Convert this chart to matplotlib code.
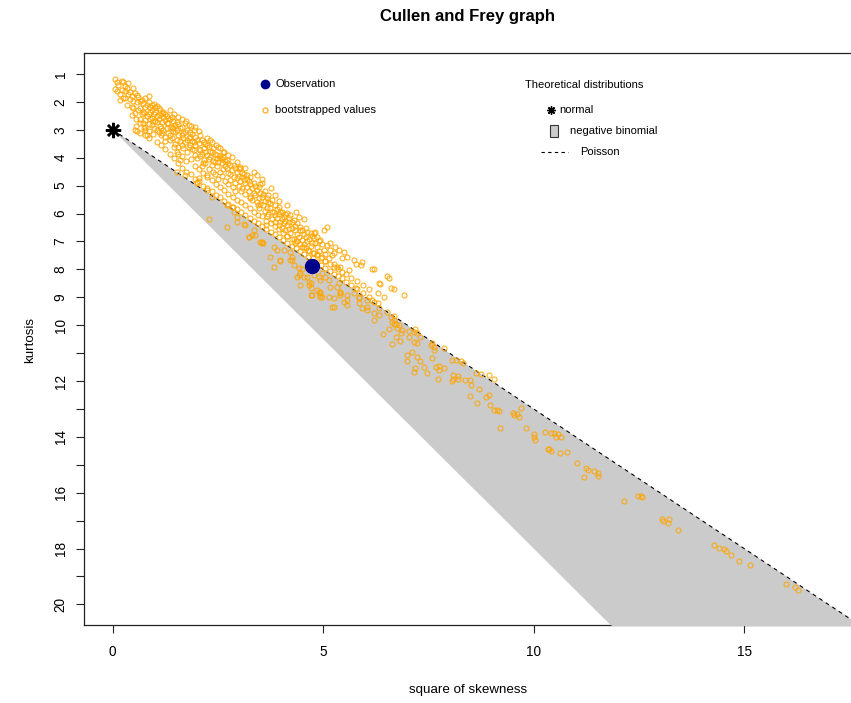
import numpy as np
import matplotlib
matplotlib.use("Agg")
import matplotlib.pyplot as plt
from matplotlib.patches import Rectangle

plt.rcParams['font.family'] = ['Liberation Sans', 'DejaVu Sans']

# ---------------- data ----------------
obs_skew2 = 4.74
obs_kurt = 7.88
normal_skew2 = 0.0
normal_kurt = 3.0

# dense bootstrap cloud, upper part: x columns and the kurtosis values seen in each column
cloud_x = [0.05, 0.10, 0.13, 0.17, 0.21, 0.24, 0.29, 0.33, 0.37, 0.41, 0.45, 0.49, 0.53, 0.57, 0.61, 0.65,
           0.69, 0.73, 0.77, 0.81, 0.85, 0.89, 0.93, 0.97, 1.01, 1.05, 1.09, 1.13, 1.17, 1.20, 1.24, 1.29,
           1.32, 1.36, 1.40, 1.44, 1.48, 1.52, 1.56, 1.60, 1.64, 1.68, 1.72, 1.76, 1.80, 1.84, 1.88, 1.92,
           1.96, 2.00, 2.04, 2.08, 2.12, 2.16, 2.20, 2.24, 2.28, 2.32, 2.36, 2.39, 2.43, 2.47, 2.51, 2.55,
           2.59, 2.63, 2.67, 2.71, 2.75, 2.79, 2.83, 2.87, 2.91, 2.95, 2.99, 3.03, 3.07, 3.11, 3.15, 3.19,
           3.23, 3.27, 3.31, 3.35, 3.39, 3.43, 3.47, 3.51, 3.55, 3.58, 3.62, 3.66, 3.70, 3.74, 3.78, 3.82,
           3.86, 3.90, 3.94, 3.98, 4.02, 4.06, 4.10, 4.14, 4.18, 4.22, 4.26, 4.30, 4.34, 4.38, 4.42, 4.46,
           4.50, 4.54, 4.58, 4.62, 4.66, 4.70, 4.74, 4.77, 4.81, 4.85, 4.89, 4.93, 4.97, 5.01, 5.05, 5.09,
           5.13, 5.17, 5.21, 5.25, 5.29, 5.33, 5.37, 5.41, 5.45, 5.49, 5.57, 5.61, 5.73, 5.77, 5.84, 5.89,
           5.93, 6.04, 6.16, 6.20, 6.32, 6.36, 6.52, 6.56, 6.60, 6.68, 6.92]
cloud_k = [[1.18, 1.55], [1.6, 1.3], [1.4], [1.93, 1.7], [1.57, 1.25], [1.28, 1.85], [1.42, 1.87, 1.6],
           [1.5, 2.1], [1.33, 1.7], [1.63, 1.9], [1.78, 2.47, 2.2], [1.49, 2.21, 1.95], [1.69, 3.0, 2.4],
           [1.99, 3.04, 1.75], [1.81, 2.3], [2.23, 1.95, 2.6], [1.93, 2.45], [2.35, 2.05, 2.75],
           [1.87, 2.65, 2.89, 3.0, 3.19, 2.2], [2.11, 3.19, 2.5], [1.78, 2.44, 2.0, 2.8], [2.17, 2.35, 2.6],
           [2.29, 2.59, 2.83, 2.1], [2.09, 2.95, 2.45], [2.35, 2.2, 2.7], [2.71, 2.5, 2.15], [2.23, 3.07, 2.6],
           [2.47, 2.3, 2.85], [2.71, 2.4, 3.1], [2.35, 3.0, 2.55], [3.25, 2.65, 2.45], [2.77, 2.95, 2.5],
           [2.59, 3.1, 2.75], [3.19, 2.62, 2.9], [2.53, 2.89, 3.3], [2.7, 3.05, 2.95], [2.83, 3.07, 3.5],
           [2.71, 3.37, 3.78, 4.52, 3.0], [2.8, 3.2, 3.6], [2.95, 4.08, 3.4], [3.19, 2.9, 3.55], [3.66, 3.1, 3.3],
           [2.77, 3.07, 4.62, 3.45], [3.0, 3.35, 3.8], [2.83, 3.3, 3.6], [3.07, 3.54, 3.25], [3.15, 3.7, 3.4],
           [3.0, 3.72, 3.45], [3.25, 3.55, 3.9], [4.02, 4.86, 3.37, 4.92], [3.48, 4.74, 3.7], [3.19, 3.72, 3.95],
           [3.35, 3.85, 4.3], [3.43, 4.08, 3.65], [3.78, 3.5, 4.2], [3.54, 4.62, 5.16, 3.9], [3.6, 6.2, 4.05, 4.4],
           [3.37, 3.96, 3.75], [5.4, 3.8, 4.25], [3.66, 4.5, 4.1], [4.14, 3.85, 4.6], [3.9, 4.3, 4.0],
           [3.6, 4.15, 4.75], [4.02, 4.5, 3.95], [4.2, 4.05, 4.65], [3.78, 3.96, 4.4], [4.1, 4.85, 4.3],
           [4.08, 4.38, 5.7, 6.49], [4.2, 4.55, 4.95], [4.8, 4.25, 4.6], [3.96, 5.76, 4.45], [4.26, 5.94, 4.7],
           [4.35, 4.9, 5.2], [4.74, 6.29, 4.5, 6.11], [4.4, 5.0, 4.65], [4.38, 4.32, 4.85], [4.55, 5.1, 4.7],
           [4.8, 6.38, 4.6], [6.41, 4.9, 5.3], [4.62, 5.05, 4.75], [6.85, 4.85, 5.2, 6.83], [4.95, 5.4, 4.7],
           [6.77, 5.1, 5.5], [6.59, 4.9, 5.25], [5.0, 5.35, 6.77], [4.62, 5.15, 5.6], [5.45, 5.05, 5.8],
           [5.25, 5.65, 4.95, 7.01], [4.92, 7.05, 5.4, 7.01], [5.7, 7.07, 5.3], [5.55, 5.9, 5.2], [5.81, 5.45, 6.1],
           [5.6, 5.35, 6.0], [5.63, 7.55, 5.8], [5.95, 6.2, 5.5], [5.94, 7.19, 7.91], [5.7, 6.05, 6.3],
           [7.31, 5.85, 6.15], [6.0, 6.4, 5.75], [5.94, 6.29, 7.7, 7.67], [5.94, 6.5, 6.2], [6.11, 7.31, 6.35],
           [6.0, 6.6, 6.25], [5.99, 6.41, 6.8], [6.3, 6.15, 6.55], [6.05, 7.67, 6.7, 7.37], [6.53, 7.55, 6.3, 7.67],
           [6.23, 7.85, 6.9], [7.07, 6.45, 6.6], [6.75, 6.35, 7.0, 8.26], [6.11, 8.2, 6.85, 7.96],
           [6.47, 8.56, 6.6, 8.14], [6.59, 6.95, 7.2, 8.0], [8.26, 6.75, 7.1], [6.83, 6.5, 7.25],
           [6.65, 7.0, 8.26], [8.44, 6.9, 7.35, 8.56], [6.71, 8.92, 7.15, 8.5, 8.68], [8.92, 7.05, 6.8],
           [6.89, 6.71, 7.4, 8.2], [6.65, 7.07], [6.83, 7.5, 7.2, 8.74], [7.0, 7.35, 8.26, 8.8],
           [6.95, 8.8, 8.98, 8.38, 8.92], [7.1, 7.55, 8.14, 9.0], [6.59, 7.3], [7.45, 7.7, 8.26],
           [6.47, 7.13], [8.98, 7.6, 8.38], [7.31, 7.07, 8.62], [9.34, 7.5], [7.8, 7.4, 9.34, 9.04],
           [7.19], [7.91, 8.62], [7.31, 8.5], [7.93, 8.86, 8.8, 8.92], [7.6], [7.37, 9.16],
           [7.55, 9.1, 9.28, 8.92], [8.03], [7.67, 8.86], [7.79, 8.68], [8.98, 9.22, 9.04], [7.85],
           [7.73, 9.4], [9.1, 9.47, 9.34], [7.97, 9.1], [8.0, 9.16, 9.58, 9.82], [8.5, 9.4, 9.64],
           [8.54], [8.24, 9.52], [8.32], [8.68, 9.7], [8.72, 9.82, 9.94], [8.92]]

# dense bootstrap cloud, lower part (down to the Poisson line)
cloud2_x = [0.55, 0.65, 0.75, 0.85, 0.95, 1.05, 1.15, 1.25, 1.35, 1.45, 1.55, 1.65, 1.75, 1.85, 1.95,
            2.05, 2.15, 2.25, 2.35, 2.45, 2.55, 2.65, 2.75, 2.85, 2.95, 3.05, 3.15, 3.25, 3.35, 3.45,
            3.55, 3.65, 3.75, 3.85, 3.95, 4.05, 4.15, 4.25, 4.35, 4.45, 4.55, 4.65, 4.75, 4.85, 4.95,
            5.05, 5.15, 5.25, 5.35, 5.45, 5.55, 5.65, 5.80, 5.95, 6.10, 6.30, 6.45]
cloud2_k = [[2.6, 2.85], [2.75, 3.1], [2.4, 2.95], [3.05, 3.3], [2.7, 3.15], [3.0, 3.45], [3.2, 3.55, 2.95],
            [3.4, 3.7], [3.35, 3.85, 2.3], [3.6, 4.0, 2.45], [3.85, 4.2, 2.55], [3.95, 4.35, 2.6],
            [4.1, 4.5, 2.7], [4.05, 4.6, 2.85], [4.3, 4.75, 2.9], [4.4, 4.85, 3.05], [4.55, 5.0, 4.2],
            [4.7, 5.1, 3.3], [4.8, 5.2, 3.45], [4.95, 5.35, 3.55], [5.05, 5.4, 3.65], [5.15, 5.55, 3.8],
            [5.3, 5.65, 3.9], [5.4, 5.75, 5.05], [5.5, 5.85, 4.15], [5.6, 5.95, 5.2], [5.7, 6.05, 4.35],
            [5.8, 6.15, 5.45], [5.95, 6.25, 4.5], [6.05, 6.35, 5.7], [6.1, 6.45, 4.75], [6.25, 6.55, 6.4],
            [6.35, 6.65, 5.1], [6.45, 6.75, 5.35], [6.55, 6.85, 5.55], [6.7, 6.95], [6.8, 7.05, 5.7],
            [6.9, 7.15], [7.0, 7.25, 5.95], [7.1, 7.35], [7.2, 7.45, 6.2], [7.3, 7.55], [7.4, 7.6],
            [7.45, 7.75], [7.6, 7.85], [7.7, 7.95], [7.8, 8.05], [7.9, 8.15], [8.0, 8.25], [8.1, 8.3],
            [8.15, 8.45], [8.3, 8.55], [8.4, 8.7], [8.55, 8.85], [8.7, 9.0], [8.85, 9.2], [9.0]]

# long tail of bootstrap values inside the negative binomial region
tail_x = [6.68, 6.64, 6.72, 6.80, 6.43, 6.56, 6.76, 6.88, 6.84, 6.64, 6.72, 7.03, 7.15, 7.19, 7.23, 7.03,
          7.31, 7.15, 7.23, 6.82, 7.12, 7.00, 7.00, 7.23, 7.31, 7.19, 7.15, 7.39, 7.47, 7.55, 7.63, 7.63,
          7.59, 7.87, 7.59, 7.67, 7.75, 7.75, 7.87, 7.72, 8.07, 8.15, 8.27, 8.31, 8.09, 8.09, 8.20, 8.20,
          8.07, 8.36, 8.49, 8.50, 8.69, 8.62, 8.76, 8.94, 9.06, 8.48, 8.66, 8.86, 8.94, 8.96, 9.06, 9.14,
          9.18, 9.19, 9.50, 9.53, 9.61, 9.65, 9.69, 9.81, 10.00, 10.01, 10.03, 10.26, 10.42, 10.49, 10.53,
          10.57, 10.64, 10.33, 10.37, 10.41, 10.63, 10.80, 11.02, 11.24, 11.28, 11.20, 11.44, 11.54, 11.54,
          12.14, 12.49, 12.55, 12.57, 13.05, 13.07, 13.18, 13.22, 13.42, 14.28, 14.40, 14.52, 14.57, 14.69,
          14.87, 15.13, 15.99, 16.20, 16.28]
tail_k = [9.67, 9.88, 9.94, 10.00, 10.30, 10.15, 10.11, 10.18, 10.29, 10.69, 10.42, 10.20, 10.24, 10.15,
          10.29, 10.42, 10.42, 10.59, 10.63, 10.56, 10.95, 11.07, 11.28, 11.13, 11.28, 11.55, 11.67, 11.49,
          11.71, 10.71, 10.77, 10.89, 10.65, 10.80, 11.19, 11.49, 11.47, 11.61, 11.55, 11.94, 11.23, 11.23,
          11.29, 11.37, 11.79, 11.91, 11.91, 11.82, 12.00, 11.97, 11.97, 12.15, 12.29, 11.71, 11.75, 11.79,
          11.91, 12.54, 12.80, 12.56, 12.50, 12.86, 13.02, 13.04, 13.07, 13.70, 13.14, 13.22, 13.19, 13.28,
          12.98, 13.68, 13.88, 14.00, 14.12, 13.82, 13.86, 13.86, 14.00, 13.91, 14.00, 14.45, 14.42, 14.50,
          14.57, 14.54, 14.95, 15.10, 15.19, 15.43, 15.23, 15.31, 15.41,
          16.30, 16.13, 16.11, 16.17, 16.96, 17.03, 17.08, 16.96, 17.34, 17.87, 17.98, 18.00, 18.09, 18.25,
          18.46, 18.60, 19.26, 19.38, 19.49]

ytick_values = list(range(1, 21))
ytick_labels = [str(v) if (v <= 10 or v % 2 == 0) else '' for v in ytick_values]
xtick_values = [0, 5, 10, 15]

# theoretical limits for the negative binomial family (kurtosis = 3 + a * skew^2)
poisson_slope = 1.0
nbinom_lower_slope = 1.5

boot_x = ([x for x, ks in zip(cloud_x, cloud_k) for _ in ks]
          + [x for x, ks in zip(cloud2_x, cloud2_k) for _ in ks] + tail_x)
boot_k = [k for ks in cloud_k for k in ks] + [k for ks in cloud2_k for k in ks] + tail_k

# ---------------- figure ----------------
fig = plt.figure(figsize=(8.51, 7.03), dpi=100)
ax = fig.add_axes([83.7 / 851, 1 - 625 / 703, 1 - 83.7 / 851 + 0.002, (625 - 52.7) / 703])
xlim = (-0.69, 17.58)
ylim = (20.74, 0.237)
ax.set_xlim(*xlim)
ax.set_ylim(*ylim)

# negative binomial region
kbot = 20.78
s_grid = np.linspace(0, 18.5, 400)
up = normal_kurt + poisson_slope * s_grid
lo = normal_kurt + nbinom_lower_slope * s_grid
poly_x = np.concatenate([s_grid, s_grid[::-1]])
poly_y = np.concatenate([np.minimum(up, kbot), np.minimum(lo, kbot)[::-1]])
ax.fill(poly_x, poly_y, color='#cbcbcb', lw=0, zorder=2.6, clip_on=False)

# Poisson line
ax.plot(s_grid, up, color='black', lw=0.8, dashes=(3.5, 3.5), zorder=2.7)

# bootstrap values
ax.plot(boot_x, boot_k, linestyle='none', marker='o', markersize=3.6, markerfacecolor='none',
        markeredgecolor='#FFA500', markeredgewidth=0.8, alpha=0.85, zorder=3)

# observation and normal
ax.plot([obs_skew2], [obs_kurt], marker='o', markersize=10, color='#00008B', linestyle='none', zorder=4)
ax.plot([normal_skew2], [normal_kurt], marker=(8, 2, 0), markersize=11, markeredgewidth=1.8,
        color='black', linestyle='none', zorder=4)

# axes styling
for side in ['top', 'left', 'bottom']:
    ax.spines[side].set_linewidth(0.9)
    ax.spines[side].set_color('#222222')
ax.spines['right'].set_visible(False)
ax.set_yticks(ytick_values)
ax.set_yticklabels(ytick_labels, rotation=90, va='center', fontsize=9.8)
ax.set_xticks(xtick_values)
ax.set_xticklabels([str(v) for v in xtick_values], fontsize=9.8)
ax.tick_params(axis='both', direction='out', length=5.5, width=0.8, color='#222222')
ax.tick_params(axis='y', pad=6)
ax.tick_params(axis='x', pad=9)

fig.text(467 / 851, 1 - 17 / 703, 'Cullen and Frey graph', ha='center', va='center',
         fontsize=12, fontweight='bold')
fig.text(468 / 851, 1 - 690 / 703, 'square of skewness', ha='center', va='center', fontsize=9.6)
fig.text(30 / 851, 1 - 340 / 703, 'kurtosis', ha='center', va='center', rotation=90, fontsize=9.6)

# legends (drawn in data coordinates)
lf = 8
ax.plot([3.62], [1.36], marker='o', markersize=6, color='#00008B', linestyle='none', clip_on=False)
ax.text(3.86, 1.36, 'Observation', fontsize=lf, va='center', ha='left')
ax.plot([3.62], [2.29], marker='o', markersize=3.6, markerfacecolor='none',
        markeredgecolor='#FFA500', markeredgewidth=0.8, linestyle='none')
ax.text(3.86, 2.29, 'bootstrapped values', fontsize=lf, va='center', ha='left')

ax.text(9.79, 1.39, 'Theoretical distributions', fontsize=lf, va='center', ha='left')
ax.plot([10.41], [2.29], marker=(8, 2, 0), markersize=6, markeredgewidth=1.0, color='black', linestyle='none')
ax.text(10.62, 2.29, 'normal', fontsize=lf, va='center', ha='left')
ax.add_patch(Rectangle((10.38, 3.27), 0.2, -0.46, facecolor='#cbcbcb', edgecolor='#333333', lw=0.8))
ax.text(10.86, 3.04, 'negative binomial', fontsize=lf, va='center', ha='left')
ax.plot([10.17, 10.81], [3.8, 3.8], color='black', lw=0.8, dashes=(3, 3))
ax.text(11.1, 3.8, 'Poisson', fontsize=lf, va='center', ha='left')

fig.savefig('out.png', dpi=100)
